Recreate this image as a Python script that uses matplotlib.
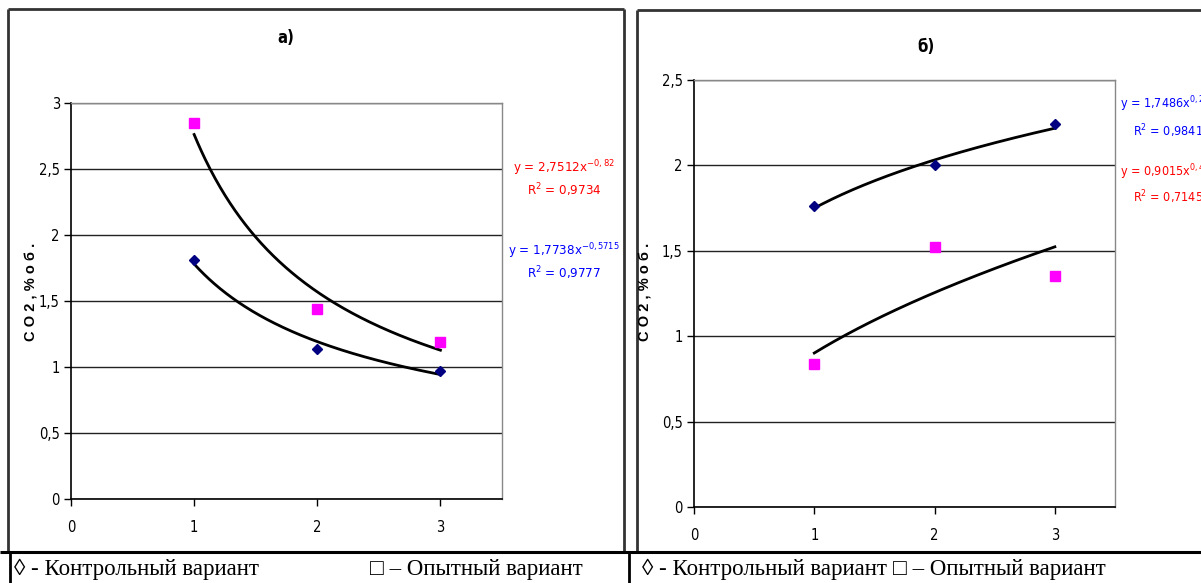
import matplotlib
matplotlib.use("Agg")
import matplotlib.pyplot as plt
import numpy as np
from matplotlib.lines import Line2D
from matplotlib.font_manager import fontManager

W, H = 1201, 583

# ---------------- data ----------------
x_days = [1, 2, 3]
a_control = [1.81, 1.14, 0.97]
a_experimental = [2.85, 1.44, 1.19]
b_control = [1.76, 2.00, 2.24]
b_experimental = [0.84, 1.52, 1.35]

a_yticks = [0, 0.5, 1, 1.5, 2, 2.5, 3]
a_yticklabels = ["0", "0,5", "1", "1,5", "2", "2,5", "3"]
b_yticks = [0, 0.5, 1, 1.5, 2, 2.5]
b_yticklabels = ["0", "0,5", "1", "1,5", "2", "2,5"]
xticks = [0, 1, 2, 3]
xticklabels = ["0", "1", "2", "3"]

a_eq_exp = ("y = 2,7512x$^{-0,82}$", "R$^2$ = 0,9734")
a_eq_ctl = ("y = 1,7738x$^{-0,5715}$", "R$^2$ = 0,9777")
b_eq_ctl = ("y = 1,7486x$^{0,2194}$", "R$^2$ = 0,9841")
b_eq_exp = ("y = 0,9015x$^{0,4775}$", "R$^2$ = 0,7145")

ylabel = "C O 2 , % о б ."
leg_ctl = "◊ - Контрольный вариант"
leg_exp = "□ – Опытный вариант"

# pick a narrow sans font if one is installed
narrow_family, narrow_stretch = "Liberation Sans", "normal"
fonts = fontManager.ttflist
names = {f.name for f in fonts}
if "Liberation Sans Narrow" in names:
    narrow_family = "Liberation Sans Narrow"
else:
    for f in fonts:
        if "ondensed" in f.fname and "Sans" in f.name and "Mono" not in f.name:
            narrow_family = f.name
            narrow_stretch = f.stretch if isinstance(f.stretch, str) else "condensed"
            break

serif = "Liberation Serif"

plt.rcParams['font.family'] = [narrow_family, 'DejaVu Sans']
plt.rcParams['font.stretch'] = narrow_stretch
plt.rcParams['mathtext.fontset'] = 'custom'
plt.rcParams['mathtext.rm'] = narrow_family
plt.rcParams['mathtext.it'] = narrow_family
plt.rcParams['mathtext.default'] = 'regular'

fig = plt.figure(figsize=(W / 100, H / 100), dpi=100)


def fx(px):
    return px / W


def fy(py):
    return 1 - py / H


def hline(x0, x1, y, lw=2, color="#333333"):
    fig.add_artist(Line2D([fx(x0), fx(x1)], [fy(y), fy(y)], lw=lw, color=color,
                          transform=fig.transFigure, solid_capstyle="butt"))


def vline(x, y0, y1, lw=2, color="#333333"):
    fig.add_artist(Line2D([fx(x), fx(x)], [fy(y0), fy(y1)], lw=lw, color=color,
                          transform=fig.transFigure, solid_capstyle="butt"))


# panel borders
hline(8, 624, 9)
vline(8, 9, 552)
vline(624, 9, 552)
hline(637, 1201, 10)
vline(637, 10, 552)
# table
hline(0, 1201, 552, lw=2.2, color="black")
vline(10, 552, 583, lw=2, color="black")
vline(629, 552, 583, lw=2, color="black")


def power_fit(x, y):
    b, lna = np.polyfit(np.log(x), np.log(y), 1)
    return np.exp(lna), b


def make_axes(rect_px, yticks, yticklabels, ymax):
    x0, ytop, x1, ybot = rect_px
    ax = fig.add_axes([fx(x0), fy(ybot), fx(x1) - fx(x0), (ybot - ytop) / H])
    ax.set_xlim(0, 3.5)
    ax.set_ylim(0, ymax)
    ax.set_xticks(xticks)
    ax.set_xticklabels(xticklabels)
    ax.set_yticks(yticks)
    ax.set_yticklabels(yticklabels)
    ax.tick_params(axis='both', direction='out', length=5, width=1, labelsize=10.5,
                   colors='black', pad=3)
    ax.tick_params(axis='x', pad=10)
    ax.yaxis.grid(True, color='#222222', lw=1)
    ax.set_axisbelow(True)
    for s in ['top', 'right']:
        ax.spines[s].set_color('#888888')
        ax.spines[s].set_linewidth(1)
    for s in ['left', 'bottom']:
        ax.spines[s].set_color('black')
        ax.spines[s].set_linewidth(1.2)
    return ax


def draw_series(ax, xs, ys, marker, color, size):
    a, b = power_fit(xs, ys)
    xx = np.linspace(1, 3, 200)
    ax.plot(xx, a * xx ** b, color='black', lw=2, zorder=3)
    ax.plot(xs, ys, linestyle='none', marker=marker, color=color,
            markersize=size, markeredgecolor=color, zorder=4, clip_on=False)


# ---------- panel a ----------
axa = make_axes((71, 103, 502, 499), a_yticks, a_yticklabels, 3)
draw_series(axa, x_days, a_experimental, 's', '#FF00FF', 6.5)
draw_series(axa, x_days, a_control, 'D', '#000080', 5.5)

# ---------- panel b ----------
axb = make_axes((694, 80, 1115, 507), b_yticks, b_yticklabels, 2.5)
draw_series(axb, x_days, b_experimental, 's', '#FF00FF', 6.5)
draw_series(axb, x_days, b_control, 'D', '#000080', 5.5)

# titles
fig.text(fx(286), fy(38), "а)", fontsize=12, fontweight='bold', ha='center', va='center')
fig.text(fx(926), fy(47), "б)", fontsize=12, fontweight='bold', ha='center', va='center')

# y labels
fig.text(fx(31), fy(292), ylabel, rotation=90, fontsize=10.5, fontweight='bold',
         ha='center', va='center', family=['Liberation Sans', 'DejaVu Sans'],
         fontstretch='normal')
fig.text(fx(646), fy(292), ylabel, rotation=90, fontsize=10.5, fontweight='bold',
         ha='center', va='center', family=['Liberation Sans', 'DejaVu Sans'],
         fontstretch='normal')


# equations
def eq(x, y1, y2, pair, color, ha='center', x2=None, size=9.5):
    fig.text(fx(x), fy(y1), pair[0], color=color, fontsize=size, ha=ha, va='center')
    fig.text(fx(x2 if x2 is not None else x), fy(y2), pair[1], color=color,
             fontsize=size, ha=ha, va='center')


eq(564, 168, 190, a_eq_exp, 'red')
eq(564, 251, 273, a_eq_ctl, 'blue')
eq(1120, 104, 131, b_eq_ctl, 'blue', ha='left', x2=1133, size=9)
eq(1120, 172, 197, b_eq_exp, 'red', ha='left', x2=1133, size=9)

# table texts
for xpos, txt in [(14, leg_ctl), (370, leg_exp), (642, leg_ctl), (893, leg_exp)]:
    fig.text(fx(xpos), fy(569), txt, fontsize=16.5, ha='left', va='center',
             family=[serif, 'DejaVu Sans'], fontstretch='normal')

fig.savefig("out.png", dpi=100)
